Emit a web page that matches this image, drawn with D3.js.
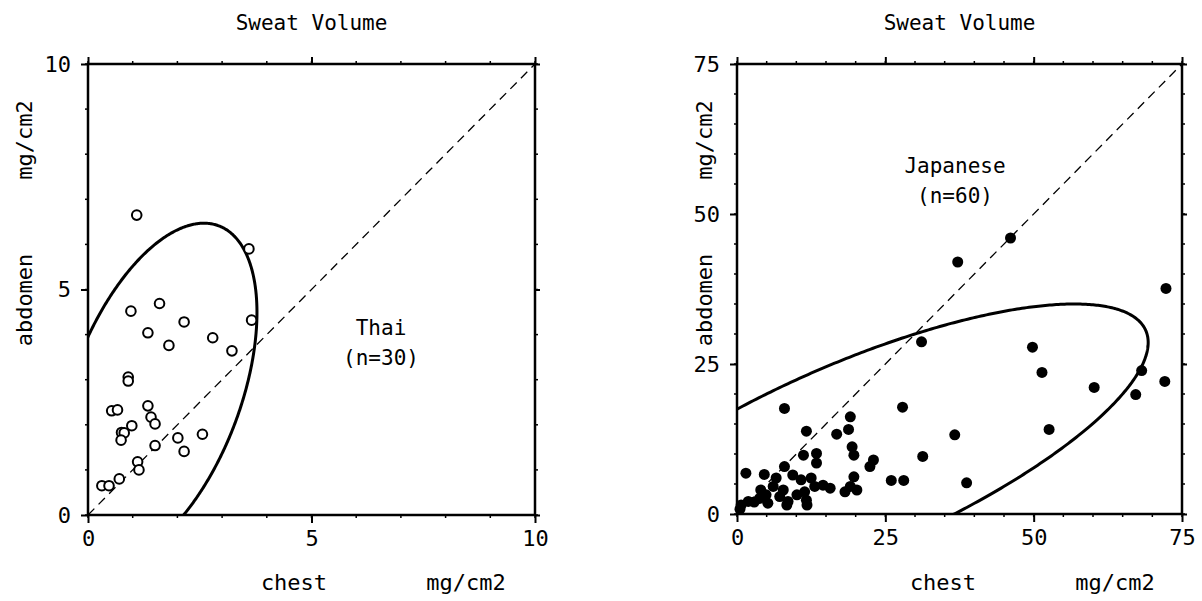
<!DOCTYPE html>
<html>
<head>
<meta charset="utf-8">
<script src="https://cdn.jsdelivr.net/npm/d3@7"></script>
<style>
  body { margin: 0; background: #fff; }
  text { font-family: "DejaVu Sans Mono", monospace; fill: #000; }
</style>
</head>
<body>
<svg id="canvas" width="1202" height="601"></svg>
<script>
// Thai (n=30), chest vs abdomen, mg/cm2
const thaiChest   = [1.09, 3.60, 0.96, 1.60, 2.15, 3.66, 1.34, 2.79, 1.81, 3.22,
                     0.90, 0.90, 0.53, 0.66, 1.34, 1.41, 1.50, 0.98, 0.75, 0.81,
                     0.74, 2.01, 2.56, 1.50, 2.15, 1.11, 1.14, 0.70, 0.31, 0.47];
const thaiAbdomen = [6.65, 5.90, 4.52, 4.69, 4.28, 4.32, 4.04, 3.93, 3.76, 3.64,
                     3.06, 2.97, 2.31, 2.33, 2.42, 2.17, 2.02, 1.98, 1.83, 1.82,
                     1.66, 1.71, 1.79, 1.54, 1.41, 1.18, 1.00, 0.80, 0.65, 0.65];

// Japanese (n=60)
const jpChest   = [46.1, 37.2, 72.3, 31.1, 49.8, 51.4, 68.2, 72.1, 60.2, 67.2,
                   27.9, 36.7, 52.6, 31.3, 38.7, 26.0, 28.1, 19.1, 18.8, 16.8,
                   19.4, 19.7, 23.0, 22.4, 19.7, 18.2, 20.2, 19.1, 8.0, 11.7,
                   11.2, 13.4, 13.4, 8.0, 1.5, 4.6, 6.6, 9.4, 10.8, 6.1,
                   7.8, 11.4, 13.1, 14.5, 4.9, 3.8, 7.2, 8.6, 11.7, 5.2,
                   1.9, 0.7, 2.9, 8.4, 11.8, 0.5, 10.1, 4.0, 15.7, 12.5];
const jpAbdomen = [46.0, 42.0, 37.6, 28.7, 27.8, 23.6, 23.9, 22.1, 21.1, 19.9,
                   17.8, 13.2, 14.1, 9.6, 5.2, 5.6, 5.6, 16.2, 14.1, 13.3,
                   11.2, 9.8, 9.0, 7.9, 6.2, 3.7, 4.0, 4.6, 17.6, 13.8,
                   9.8, 10.1, 8.5, 7.9, 6.8, 6.6, 6.0, 6.5, 5.7, 4.6,
                   4.0, 3.7, 4.6, 4.8, 3.2, 2.6, 2.9, 2.1, 2.3, 1.8,
                   2.1, 1.5, 2.0, 1.5, 1.5, 0.8, 3.2, 4.0, 4.3, 6.0];

// ellipse: [meanX, meanY, radiusX, radiusY, correlation]
const thaiEllipse = [1.52, 2.70, 2.26, 3.77, 0.475];
const jpEllipse   = [19.4, 9.3, 49.9, 25.7, 0.75];

const thaiTicks = [0, 5, 10];
const jpTicks   = [0, 25, 50, 75];

const svg = d3.select("#canvas");

const drawPanel = (opts) => {
    const { id, x0, x1, y0, y1, max, majors, minorStep, xs, ys, ellipse, filled,
            label, labelX, labelY, yTitleX } = opts;
    const x = d3.scaleLinear().domain([0, max]).range([x0, x1]);
    const y = d3.scaleLinear().domain([0, max]).range([y0, y1]);
    const g = svg.append("g").attr("class", "panel-" + id);

    g.append("clipPath").attr("id", "clip-" + id)
        .append("rect")
        .attr("x", x0).attr("y", y1)
        .attr("width", x1 - x0).attr("height", y0 - y1);

    // title
    g.append("text")
        .attr("x", (x0 + x1) / 2).attr("y", 30)
        .attr("text-anchor", "middle")
        .attr("font-size", "21px")
        .text("Sweat Volume");

    // minor ticks on all four sides
    const minors = d3.range(0, max + 0.001, minorStep);
    g.selectAll(".mb").data(minors).join("line")
        .attr("x1", d => x(d)).attr("x2", d => x(d))
        .attr("y1", y0).attr("y2", y0 + 3)
        .attr("stroke", "#000").attr("stroke-width", 1.5);
    g.selectAll(".mt").data(minors).join("line")
        .attr("x1", d => x(d)).attr("x2", d => x(d))
        .attr("y1", y1).attr("y2", y1 - 3)
        .attr("stroke", "#000").attr("stroke-width", 1.5);
    g.selectAll(".ml").data(minors).join("line")
        .attr("x1", x0).attr("x2", x0 - 3)
        .attr("y1", d => y(d)).attr("y2", d => y(d))
        .attr("stroke", "#000").attr("stroke-width", 1.5);
    g.selectAll(".mr").data(minors).join("line")
        .attr("x1", x1).attr("x2", x1 + 3)
        .attr("y1", d => y(d)).attr("y2", d => y(d))
        .attr("stroke", "#000").attr("stroke-width", 1.5);

    // major axes with labels
    const xAxis = g.append("g")
        .attr("transform", `translate(0,${y0})`)
        .call(d3.axisBottom(x).tickValues(majors).tickSize(8).tickPadding(7).tickFormat(d3.format("d")));
    const yAxis = g.append("g")
        .attr("transform", `translate(${x0},0)`)
        .call(d3.axisLeft(y).tickValues(majors).tickSize(7).tickPadding(10).tickFormat(d3.format("d")));
    const xTop = g.append("g")
        .attr("transform", `translate(0,${y1})`)
        .call(d3.axisTop(x).tickValues(majors).tickSize(7).tickFormat(""));
    const yRight = g.append("g")
        .attr("transform", `translate(${x1},0)`)
        .call(d3.axisRight(y).tickValues(majors).tickSize(5).tickFormat(""));
    [xAxis, yAxis, xTop, yRight].forEach(a => {
        a.select(".domain").remove();
        a.selectAll(".tick line").attr("stroke", "#000").attr("stroke-width", 2);
        a.selectAll(".tick text")
            .attr("font-family", "DejaVu Sans Mono, monospace")
            .attr("font-size", "22px")
            .attr("fill", "#000");
    });

    // frame
    g.append("rect")
        .attr("x", x0).attr("y", y1)
        .attr("width", x1 - x0).attr("height", y0 - y1)
        .attr("fill", "none")
        .attr("stroke", "#000").attr("stroke-width", 2.5);

    // identity line
    g.append("line")
        .attr("x1", x(0)).attr("y1", y(0))
        .attr("x2", x(max)).attr("y2", y(max))
        .attr("stroke", "#000").attr("stroke-width", 1.3)
        .attr("stroke-dasharray", "9,6");

    // confidence ellipse
    const [mx, my, a, b, rho] = ellipse;
    const ts = d3.range(0, 2 * Math.PI + 0.01, 0.01);
    const line = d3.line()
        .x(t => x(mx + a * Math.cos(t)))
        .y(t => y(my + b * (rho * Math.cos(t) + Math.sqrt(1 - rho * rho) * Math.sin(t))));
    g.append("path")
        .attr("d", line(ts))
        .attr("clip-path", `url(#clip-${id})`)
        .attr("fill", "none")
        .attr("stroke", "#000").attr("stroke-width", 3);

    // points
    const pts = xs.map((d, i) => [d, ys[i]]);
    g.selectAll(".pt").data(pts).join("circle")
        .attr("cx", d => x(d[0])).attr("cy", d => y(d[1]))
        .attr("r", filled ? 5.5 : 4.8)
        .attr("fill", filled ? "#000" : "#fff")
        .attr("stroke", "#000")
        .attr("stroke-width", filled ? 0 : 2);

    // axis titles
    g.append("text").attr("x", x0 + 206).attr("y", 590)
        .attr("text-anchor", "middle").attr("font-size", "22px").text("chest");
    g.append("text").attr("x", x0 + 378).attr("y", 590)
        .attr("text-anchor", "middle").attr("font-size", "22px").text("mg/cm2");
    g.append("text")
        .attr("transform", `translate(${yTitleX},300) rotate(-90)`)
        .attr("text-anchor", "middle").attr("font-size", "22px").text("abdomen");
    g.append("text")
        .attr("transform", `translate(${yTitleX},140) rotate(-90)`)
        .attr("text-anchor", "middle").attr("font-size", "22px").text("mg/cm2");

    // group label
    g.append("text").attr("x", labelX).attr("y", labelY)
        .attr("text-anchor", "middle").attr("font-size", "21px").text(label[0]);
    g.append("text").attr("x", labelX).attr("y", labelY + 30)
        .attr("text-anchor", "middle").attr("font-size", "21px").text(label[1]);
};

drawPanel({
    id: "thai", x0: 88, x1: 535, y0: 515, y1: 64, max: 10,
    majors: thaiTicks, minorStep: 1,
    xs: thaiChest, ys: thaiAbdomen, ellipse: thaiEllipse, filled: false,
    label: ["Thai", "(n=30)"], labelX: 381, labelY: 335, yTitleX: 32
});

drawPanel({
    id: "jp", x0: 737, x1: 1182, y0: 514, y1: 64, max: 75,
    majors: jpTicks, minorStep: 5,
    xs: jpChest, ys: jpAbdomen, ellipse: jpEllipse, filled: true,
    label: ["Japanese", "(n=60)"], labelX: 955, labelY: 173, yTitleX: 712
});
</script>
</body>
</html>
